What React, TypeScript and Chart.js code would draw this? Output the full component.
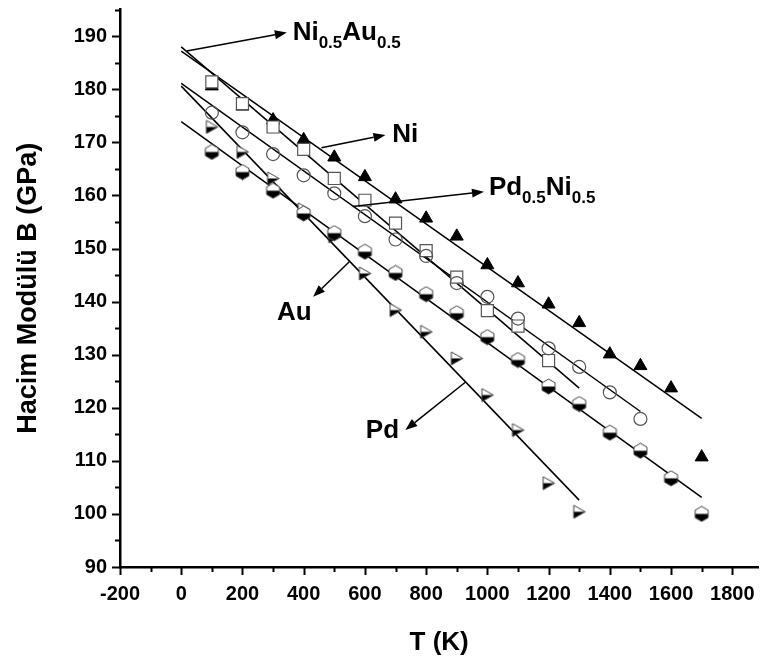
import React, { useEffect, useRef } from "react";
import { Chart, registerables } from "chart.js";

Chart.register(...registerables);

const FONT = "'Liberation Sans', Arial, Helvetica, sans-serif";

// ---- data (temperature T in K, bulk modulus B in GPa) ----
const niT = [100, 200, 300, 400, 500, 600, 700, 800, 900, 1000, 1100, 1200, 1300, 1400, 1500, 1600, 1700];
const niB = [180.6, 176.8, 174.2, 170.5, 167.2, 163.5, 159.3, 155.7, 152.3, 146.9, 143.5, 139.5, 136.0, 130.1, 127.9, 123.7, 110.7];

const niAuT = [100, 200, 300, 400, 500, 600, 700, 800, 900, 1000, 1100, 1200];
const niAuB = [181.4, 177.3, 172.9, 168.7, 163.2, 159.1, 154.8, 149.6, 144.6, 138.3, 135.4, 128.9];

const pdNiT = [100, 200, 300, 400, 500, 600, 700, 800, 900, 1000, 1100, 1200, 1300, 1400, 1500];
const pdNiB = [175.6, 171.9, 167.8, 163.8, 160.4, 156.1, 151.7, 148.6, 143.5, 140.9, 136.8, 131.2, 127.7, 122.9, 117.9];

const auT = [100, 200, 300, 400, 500, 600, 700, 800, 900, 1000, 1100, 1200, 1300, 1400, 1500, 1600, 1700];
const auB = [168.2, 164.4, 160.9, 156.6, 152.9, 149.4, 145.4, 141.4, 137.8, 133.3, 129.0, 124.0, 120.7, 115.3, 111.9, 106.7, 100.0];

const pdT = [100, 200, 300, 400, 500, 600, 700, 800, 900, 1000, 1100, 1200, 1300];
const pdB = [172.9, 168.2, 163.2, 157.4, 152.3, 145.3, 138.4, 134.3, 129.3, 122.4, 115.8, 105.8, 100.4];

// linear fit lines: [T start, B start, T end, B end]
const niFit = [0, 187.2, 1700, 118.0];
const niAuFit = [0, 188.0, 1300, 123.7];
const pdNiFit = [0, 181.1, 1500, 119.3];
const auFit = [0, 173.9, 1700, 103.1];
const pdFit = [0, 180.6, 1300, 102.6];

// axes
const xMin = -200;
const xMax = 1885;
const xMajor = 200;
const xMinor = 100;
const xLast = 1800;
const yMin = 90;
const yMax = 195;
const yMajor = 10;
const yMinor = 5;

// annotation labels (data coordinates): text parts [text, isSubscript]
const annotations = [
  { parts: [["Ni", false], ["0.5", true], ["Au", false], ["0.5", true]], at: [364, 189.3], from: [18, 187.2], to: [345, 190.7] },
  { parts: [["Ni", false]], at: [689, 170.1], from: [458, 169.0], to: [667, 171.4] },
  { parts: [["Pd", false], ["0.5", true], ["Ni", false], ["0.5", true]], at: [1005, 160.1], from: [560, 157.9], to: [989, 160.7] },
  { parts: [["Au", false]], at: [313, 136.5], from: [549, 147.5], to: [431, 140.9] },
  { parts: [["Pd", false]], at: [603, 114.3], from: [930, 124.9], to: [732, 115.8] },
];

const pts = (t: number[], b: number[]) => t.map((v, i) => ({ x: v, y: b[i] }));
const fit = (f: number[]) => [{ x: f[0], y: f[1] }, { x: f[2], y: f[3] }];

function halfHex(): HTMLCanvasElement {
  const c = document.createElement("canvas");
  c.width = 17; c.height = 17;
  const g = c.getContext("2d")!;
  const cx = 8.5, cy = 8.5, r = 7.5;
  const path = () => {
    g.beginPath();
    for (let k = 0; k < 6; k++) {
      const a = -Math.PI / 2 + (k * Math.PI) / 3;
      const px = cx + r * Math.cos(a), py = cy + r * Math.sin(a);
      if (k === 0) g.moveTo(px, py); else g.lineTo(px, py);
    }
    g.closePath();
  };
  path(); g.fillStyle = "#fff"; g.fill();
  g.save(); g.beginPath(); g.rect(0, cy, 17, 17); g.clip(); path(); g.fillStyle = "#000"; g.fill(); g.restore();
  path(); g.strokeStyle = "#444"; g.lineWidth = 1; g.stroke();
  return c;
}

function halfRightTri(): HTMLCanvasElement {
  const c = document.createElement("canvas");
  c.width = 15; c.height = 15;
  const g = c.getContext("2d")!;
  const path = () => {
    g.beginPath();
    g.moveTo(2, 1); g.lineTo(2, 14); g.lineTo(13.5, 7.5); g.closePath();
  };
  path(); g.fillStyle = "#fff"; g.fill();
  g.save(); g.beginPath(); g.rect(0, 7.5, 15, 15); g.clip(); path(); g.fillStyle = "#000"; g.fill(); g.restore();
  path(); g.strokeStyle = "#444"; g.lineWidth = 1; g.stroke();
  return c;
}

const decor = {
  id: "decor",
  afterDatasetsDraw(chart: any) {
    const { ctx, chartArea } = chart;
    const x = chart.scales.x, y = chart.scales.y;
    ctx.save();
    ctx.strokeStyle = "#000";
    ctx.lineWidth = 2;
    for (let t = xMin; t <= xLast; t += xMinor) {
      const px = Math.round(x.getPixelForValue(t)) + 0.5;
      const len = (t - xMin) % xMajor === 0 ? 8 : 5;
      ctx.beginPath(); ctx.moveTo(px, chartArea.bottom); ctx.lineTo(px, chartArea.bottom + len); ctx.stroke();
    }
    for (let v = yMin; v <= yMax; v += yMinor) {
      const py = Math.round(y.getPixelForValue(v)) + 0.5;
      const len = (v - yMin) % yMajor === 0 ? 8 : 5;
      ctx.beginPath(); ctx.moveTo(chartArea.left, py); ctx.lineTo(chartArea.left - len, py); ctx.stroke();
    }
    // arrows + labels
    ctx.fillStyle = "#000";
    ctx.lineWidth = 1.5;
    for (const a of annotations) {
      const x1 = x.getPixelForValue(a.from[0]), y1 = y.getPixelForValue(a.from[1]);
      const x2 = x.getPixelForValue(a.to[0]), y2 = y.getPixelForValue(a.to[1]);
      const ang = Math.atan2(y2 - y1, x2 - x1);
      const hl = 12, hw = 4.5;
      const bx = x2 - hl * Math.cos(ang), by = y2 - hl * Math.sin(ang);
      ctx.beginPath(); ctx.moveTo(x1, y1); ctx.lineTo(bx, by); ctx.stroke();
      ctx.beginPath();
      ctx.moveTo(x2, y2);
      ctx.lineTo(bx + hw * Math.sin(ang), by - hw * Math.cos(ang));
      ctx.lineTo(bx - hw * Math.sin(ang), by + hw * Math.cos(ang));
      ctx.closePath(); ctx.fill();

      let tx = x.getPixelForValue(a.at[0]);
      const ty = y.getPixelForValue(a.at[1]);
      ctx.textBaseline = "alphabetic";
      ctx.textAlign = "left";
      for (const [txt, sub] of a.parts as [string, boolean][]) {
        ctx.font = sub ? `bold 17px ${FONT}` : `bold 26px ${FONT}`;
        ctx.fillText(txt, tx, sub ? ty + 8 : ty);
        tx += ctx.measureText(txt).width;
      }
    }
    ctx.restore();
  },
};

export default function App() {
  const ref = useRef<HTMLCanvasElement>(null);
  useEffect(() => {
    if (!ref.current) return;
    const hex = halfHex();
    const rtri = halfRightTri();
    const lineDs = (f: number[]) => ({
      type: "line" as const,
      data: fit(f),
      borderColor: "#000",
      borderWidth: 1.5,
      pointRadius: 0,
      showLine: true,
      fill: false,
      order: 10,
    });
    const chart = new Chart(ref.current, {
      type: "scatter",
      data: {
        datasets: [
          lineDs(niFit), lineDs(niAuFit), lineDs(pdNiFit), lineDs(auFit), lineDs(pdFit),
          { label: "Ni", data: pts(niT, niB), pointStyle: "triangle", pointRadius: 7.5, backgroundColor: "#000", borderColor: "#000", borderWidth: 1, order: 3 },
          { label: "Ni0.5Au0.5", data: pts(niAuT, niAuB), pointStyle: "rect", pointRadius: 8.5, backgroundColor: "#fff", borderColor: "#555", borderWidth: 1.2, order: 2 },
          { label: "Pd0.5Ni0.5", data: pts(pdNiT, pdNiB), pointStyle: "circle", pointRadius: 6.5, backgroundColor: "rgba(0,0,0,0)", borderColor: "#555", borderWidth: 1.2, order: 1 },
          { label: "Au", data: pts(auT, auB), pointStyle: hex, pointRadius: 7, order: 4 },
          { label: "Pd", data: pts(pdT, pdB), pointStyle: rtri, pointRadius: 7, order: 5 },
        ] as any,
      },
      options: {
        responsive: false,
        animation: false,
        devicePixelRatio: 1,
        layout: { padding: { top: 9, right: 0, left: 0, bottom: 0 } },
        plugins: { legend: { display: false }, tooltip: { enabled: false } },
        scales: {
          x: {
            type: "linear",
            min: xMin,
            max: xMax,
            afterFit: (s: any) => { s.height = 94; s.paddingLeft = 0; s.paddingRight = 0; },
            ticks: { stepSize: xMajor, includeBounds: false, autoSkip: false, maxRotation: 0, color: "#000", padding: 7, font: { family: FONT, size: 20, weight: "bold" }, callback: (v: any) => String(v) },
            grid: { drawOnChartArea: false, drawTicks: true, tickLength: 8, color: "rgba(0,0,0,0)" },
            border: { display: true, color: "#000", width: 2.5 },
            title: { display: true, text: "T (K)", color: "#000", font: { family: FONT, size: 26, weight: "bold" }, padding: { top: 0, bottom: 3 } },
          },
          y: {
            type: "linear",
            min: yMin,
            max: yMax,
            afterFit: (s: any) => { s.width = 120; s.paddingTop = 0; s.paddingBottom = 0; },
            ticks: { stepSize: yMajor, includeBounds: false, autoSkip: false, color: "#000", padding: 5, font: { family: FONT, size: 20, weight: "bold" }, callback: (v: any) => String(v) },
            grid: { drawOnChartArea: false, drawTicks: true, tickLength: 8, color: "rgba(0,0,0,0)" },
            border: { display: true, color: "#000", width: 2.5 },
            title: { display: true, text: "Hacim Modülü B (GPa)", color: "#000", font: { family: FONT, size: 27, weight: "bold" }, padding: { top: 12, bottom: 0 } },
          },
        },
      } as any,
      plugins: [decor],
    });
    return () => chart.destroy();
  }, []);
  return (
    <div style={{ position: "absolute", left: 0, top: 0, width: 768, height: 661, background: "#fff" }}>
      <canvas ref={ref} width={768} height={661} />
    </div>
  );
}
